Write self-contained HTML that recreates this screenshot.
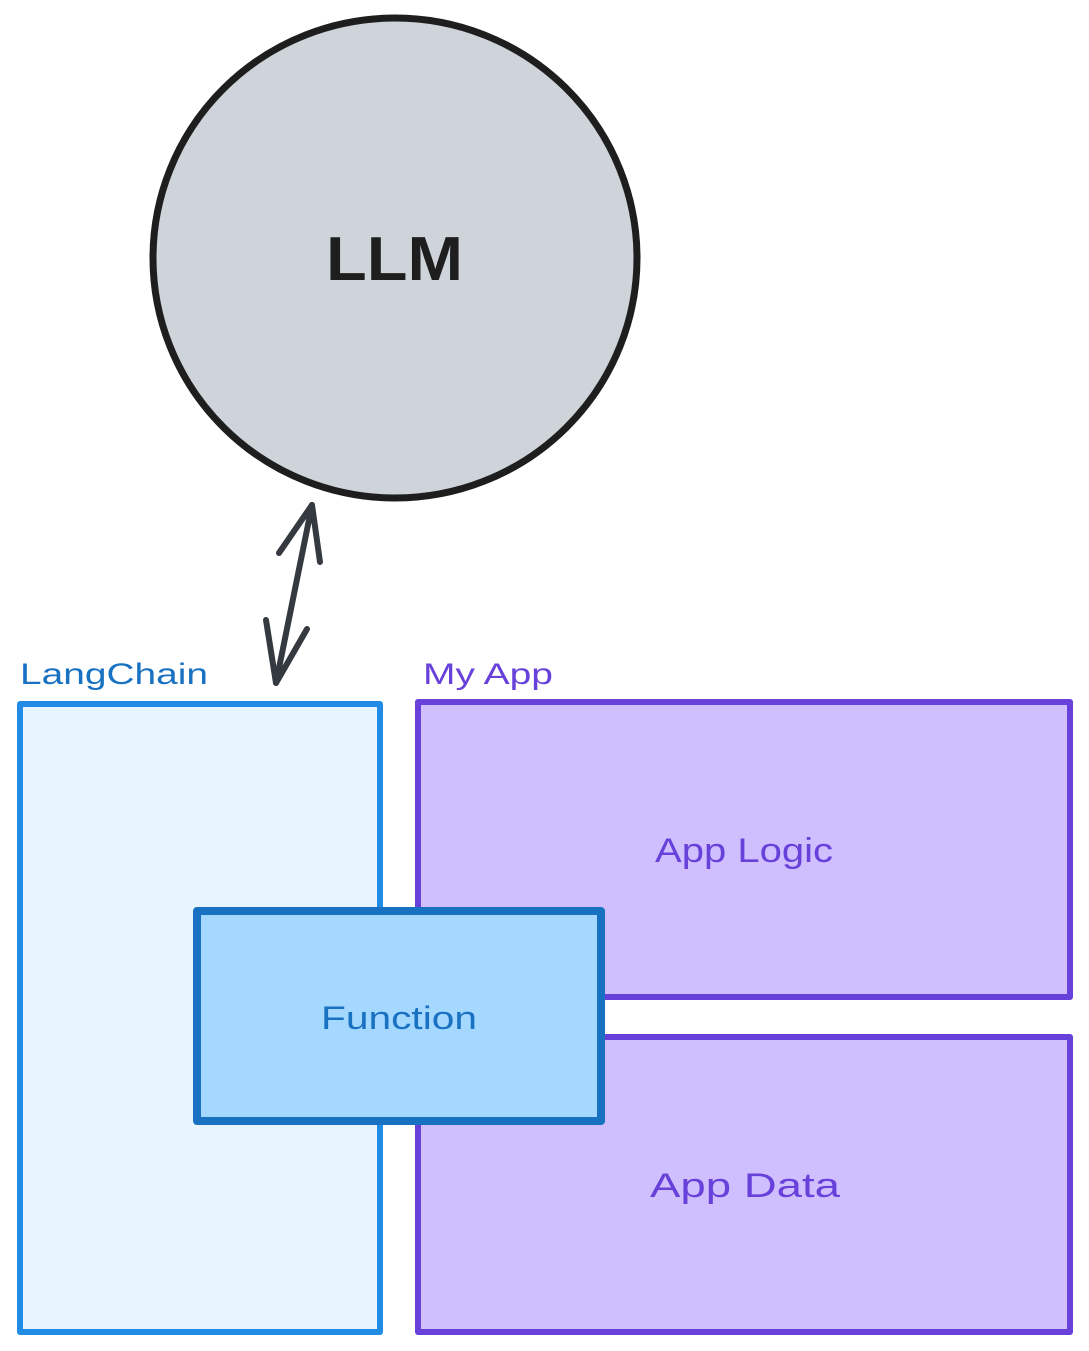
<!DOCTYPE html>
<html><head><meta charset="utf-8"><style>
html,body{margin:0;padding:0;background:#fff;}
svg{display:block}
text{font-family:"Liberation Sans",sans-serif;}
</style></head><body>
<svg width="1089" height="1351" viewBox="0 0 1089 1351" xmlns="http://www.w3.org/2000/svg">
<ellipse cx="395" cy="258" rx="242" ry="240" fill="#ced4da" stroke="#1e1e1e" stroke-width="7"/>
<text x="326" y="280" font-size="62" fill="#1e1e1e" font-weight="bold" textLength="137" lengthAdjust="spacingAndGlyphs">LLM</text>
<g stroke="#343a40" stroke-width="6" fill="none" stroke-linecap="round" stroke-linejoin="round">
<line x1="312" y1="505" x2="276" y2="683"/>
<polyline points="279,553 312,505 320,562"/>
<polyline points="266,620 276,683 307,629"/>
</g>
<rect x="20" y="704" width="360" height="628" fill="#e7f5ff" stroke="#228be6" stroke-width="6" stroke-linejoin="round"/>
<text x="20" y="684" font-size="30" fill="#1971c2" textLength="188" lengthAdjust="spacingAndGlyphs">LangChain</text>
<rect x="418" y="702" width="652" height="295" fill="#d0bfff" stroke="#6741d9" stroke-width="6" stroke-linejoin="round"/>
<rect x="418" y="1037" width="652" height="295" fill="#d0bfff" stroke="#6741d9" stroke-width="6" stroke-linejoin="round"/>
<text x="423" y="684" font-size="30" fill="#6741d9" textLength="130" lengthAdjust="spacingAndGlyphs">My App</text>
<text x="655" y="862" font-size="34" fill="#6741d9" textLength="178" lengthAdjust="spacingAndGlyphs">App Logic</text>
<text x="650" y="1197" font-size="34" fill="#6741d9" textLength="190" lengthAdjust="spacingAndGlyphs">App Data</text>
<rect x="197" y="911" width="404" height="210" fill="#a5d8ff" stroke="#1971c2" stroke-width="8" stroke-linejoin="round"/>
<text x="321" y="1029" font-size="32" fill="#1971c2" textLength="156" lengthAdjust="spacingAndGlyphs">Function</text>
</svg>
</body></html>
